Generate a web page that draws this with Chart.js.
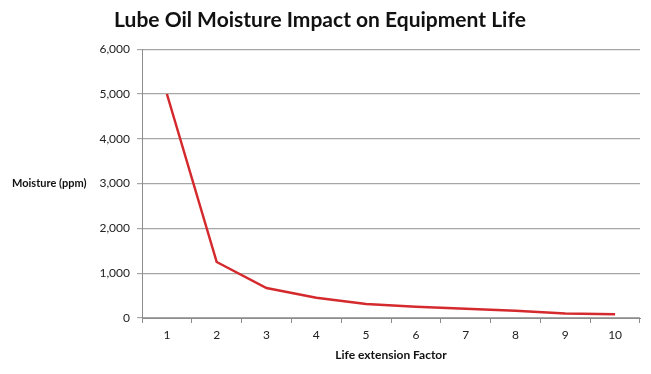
<!DOCTYPE html>
<html>
<head>
<meta charset="utf-8">
<script src="https://cdn.jsdelivr.net/npm/chart.js@4/dist/chart.umd.min.js"></script>
<style>
  html, body { margin: 0; padding: 0; background: #fff; }
  #wrap { width: 651px; height: 374px; }
</style>
</head>
<body>
<div id="wrap"><canvas id="grafica" width="651" height="374"></canvas></div>
<script>
// Datos
const factors = ['1', '2', '3', '4', '5', '6', '7', '8', '9', '10'];
const moisture = [5000, 1250, 670, 450, 310, 250, 205, 160, 100, 85];
const yTicks = [0, 1000, 2000, 3000, 4000, 5000, 6000];

const fontFamily = "Lato, 'Open Sans', sans-serif";

// Titulo del eje Y en horizontal, a la altura de 3,000
const yTitlePlugin = {
    id: 'yTitle',
    afterDraw(chart) {
        const ctx = chart.ctx;
        const y = chart.scales.y.getPixelForValue(3000);
        ctx.save();
        ctx.font = "bold 11px " + fontFamily;
        ctx.fillStyle = '#111';
        ctx.textAlign = 'left';
        ctx.textBaseline = 'middle';
        ctx.fillText('Moisture (ppm)', 12, y);
        ctx.restore();
    }
};

const ctx = document.getElementById('grafica').getContext('2d');
new Chart(ctx, {
    type: 'line',
    data: {
        labels: factors,
        datasets: [{
            label: 'Moisture (ppm)',
            data: moisture,
            borderColor: '#d42a2e',
            borderWidth: 2.5,
            pointRadius: 0,
            tension: 0,
            fill: false
        }]
    },
    options: {
        responsive: false,
        animation: false,
        layout: { padding: { top: 0, right: 11, bottom: 0, left: 0 } },
        plugins: {
            legend: { display: false },
            tooltip: { enabled: false },
            title: {
                display: true,
                text: 'Lube Oil Moisture Impact on Equipment Life',
                color: '#111',
                font: { family: fontFamily, size: 21, weight: 'bold' },
                padding: { top: 8, bottom: 16 }
            }
        },
        scales: {
            x: {
                offset: true,
                grid: { drawOnChartArea: false, tickLength: 5, color: '#8c8c8c', offset: true },
                border: { color: '#8c8c8c' },
                ticks: { color: '#222', padding: 5, font: { family: fontFamily, size: 12 } },
                title: {
                    display: true,
                    text: 'Life extension Factor',
                    color: '#111',
                    font: { family: fontFamily, size: 12, weight: 'bold' },
                    padding: { top: 2, bottom: 12 }
                },
                afterFit(scale) { scale.height = 56; }
            },
            y: {
                min: 0,
                max: 6000,
                afterBuildTicks(scale) { scale.ticks = yTicks.map(v => ({ value: v })); },
                grid: { color: '#a6a6a6', tickLength: 5, lineWidth: 1.2 },
                border: { color: '#8c8c8c' },
                ticks: {
                    color: '#222',
                    padding: 7,
                    font: { family: fontFamily, size: 12 },
                    callback: v => v.toLocaleString('en-US')
                },
                afterFit(scale) { scale.width = 142; }
            }
        }
    },
    plugins: [yTitlePlugin]
});
</script>
</body>
</html>
